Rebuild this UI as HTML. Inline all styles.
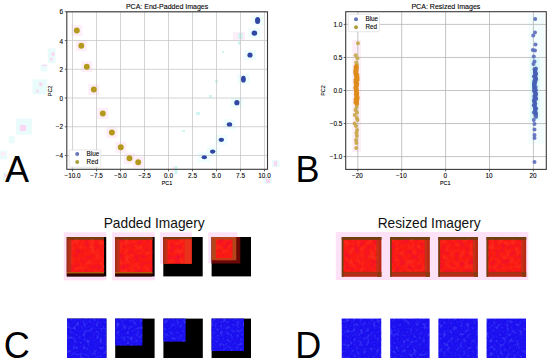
<!DOCTYPE html>
<html><head><meta charset="utf-8"><style>
html,body{margin:0;padding:0;background:#fff;width:550px;height:364px;overflow:hidden}
svg{display:block}
text{font-family:"Liberation Sans",sans-serif;fill:#000}
.sm{stroke:#000;stroke-width:0.1}
.md{fill:#111}
.g{stroke:#b0b0b0;stroke-width:0.75}
.ga{stroke:#c6c6c6;stroke-width:0.75}
.sp{fill:none;stroke:#3a3a3a;stroke-width:1.1}
.tk{stroke:#3a3a3a;stroke-width:0.8}
</style></head><body>
<svg width="550" height="364" viewBox="0 0 550 364">
<defs><linearGradient id="lb" x1="0" x2="1" y1="0" y2="0"><stop offset="0" stop-color="#98301a"/><stop offset="0.5" stop-color="#b8301a"/><stop offset="1" stop-color="#d82818"/></linearGradient><filter id="nr" x="0" y="0" width="1" height="1"><feTurbulence type="fractalNoise" baseFrequency="0.2" numOctaves="2" seed="4" result="t"/><feColorMatrix in="t" values="0 0 0 0 1  0 0 0 0 0.2  0 0 0 0 0.08  0.6 0 0 0 -0.3" result="l"/><feColorMatrix in="t" values="0 0 0 0 0.78  0 0 0 0 0  0 0 0 0 0.1  -1.3 0 0 0 0.65" result="d"/><feMerge><feMergeNode in="l"/><feMergeNode in="d"/></feMerge></filter><filter id="nb" x="0" y="0" width="1" height="1"><feTurbulence type="fractalNoise" baseFrequency="0.3" numOctaves="2" seed="9" result="t"/><feColorMatrix in="t" values="0 0 0 0 0.22  0 0 0 0 0.28  0 0 0 0 1  1.0 0 0 0 -0.5" result="l"/><feColorMatrix in="t" values="0 0 0 0 0.06  0 0 0 0 0.02  0 0 0 0 0.8  -1.0 0 0 0 0.5" result="d"/><feMerge><feMergeNode in="l"/><feMergeNode in="d"/></feMerge></filter></defs>
<rect x="528.50" y="14.00" width="16.00" height="130.00" fill="#f4fdfd" />
<rect x="530.30" y="58.00" width="9.40" height="62.00" fill="#dcf8f8" />
<rect x="352.30" y="40.00" width="8.60" height="112.00" fill="#fdeef8" />
<g id="A">
<rect x="47.80" y="48.20" width="7.70" height="14.80" fill="#e9fbfb" />
<rect x="51.50" y="52.50" width="3.20" height="3.20" fill="#f9d6f1" />
<rect x="50.20" y="57.80" width="2.60" height="2.60" fill="#f9d6f1" />
<rect x="40.70" y="64.70" width="6.60" height="6.60" fill="#e9fbfb" />
<rect x="42.00" y="64.70" width="5.00" height="1.20" fill="#f9d6f1" />
<rect x="32.50" y="79.50" width="14.80" height="14.90" fill="#e9fbfb" />
<rect x="39.20" y="82.80" width="3.20" height="3.20" fill="#f9d6f1" />
<rect x="36.30" y="89.80" width="2.60" height="2.60" fill="#f9d6f1" />
<rect x="16.00" y="118.50" width="16.00" height="16.00" fill="#e9fbfb" />
<rect x="20.00" y="125.00" width="6.00" height="6.00" fill="#f9d6f1" />
<rect x="8.70" y="135.80" width="6.20" height="7.50" fill="#e9fbfb" />
<rect x="0.00" y="150.70" width="7.00" height="8.70" fill="#e9fbfb" />
<rect x="1.00" y="152.00" width="4.00" height="4.00" fill="#fdeef9" />
<rect x="3.00" y="172.00" width="6.00" height="8.00" fill="#e9fbfb" />
<rect x="4.50" y="174.00" width="3.00" height="3.00" fill="#f9d6f1" />
<rect x="71.30" y="25.10" width="11.00" height="11.00" fill="#fdeef9" />
<rect x="75.80" y="40.30" width="11.00" height="11.00" fill="#fdeef9" />
<rect x="81.30" y="61.20" width="11.00" height="11.00" fill="#fdeef9" />
<rect x="88.30" y="84.00" width="11.00" height="11.00" fill="#fdeef9" />
<rect x="97.30" y="107.90" width="11.00" height="11.00" fill="#fdeef9" />
<rect x="106.40" y="127.00" width="11.00" height="11.00" fill="#fdeef9" />
<rect x="115.30" y="141.80" width="11.00" height="11.00" fill="#fdeef9" />
<rect x="124.00" y="152.70" width="11.00" height="11.00" fill="#fdeef9" />
<rect x="132.70" y="156.70" width="11.00" height="11.00" fill="#fdeef9" />
<rect x="251.60" y="15.40" width="12.00" height="10.00" fill="#effdfd" />
<rect x="248.40" y="28.10" width="12.00" height="10.00" fill="#effdfd" />
<rect x="244.00" y="50.00" width="12.00" height="10.00" fill="#effdfd" />
<rect x="237.40" y="74.20" width="12.00" height="10.00" fill="#effdfd" />
<rect x="230.90" y="97.70" width="12.00" height="10.00" fill="#effdfd" />
<rect x="223.50" y="119.40" width="12.00" height="10.00" fill="#effdfd" />
<rect x="215.40" y="134.80" width="12.00" height="10.00" fill="#effdfd" />
<rect x="206.70" y="146.60" width="12.00" height="10.00" fill="#effdfd" />
<rect x="198.30" y="152.30" width="12.00" height="10.00" fill="#effdfd" />
<rect x="233.00" y="32.00" width="12.00" height="8.00" fill="#fdeef9" />
<rect x="238.50" y="33.00" width="4.00" height="6.00" fill="#c8f4f0" />
<rect x="238.00" y="41.50" width="3.00" height="3.00" fill="#c8f4f0" />
<rect x="222.00" y="51.00" width="2.00" height="2.00" fill="#d0f6f4" />
<rect x="215.00" y="80.00" width="3.00" height="3.00" fill="#d0f6f4" />
<rect x="209.00" y="95.00" width="3.00" height="3.00" fill="#d0f6f4" />
<rect x="196.00" y="112.00" width="4.00" height="3.00" fill="#d0f6f4" />
<rect x="182.00" y="130.00" width="3.00" height="2.00" fill="#d0f6f4" />
<rect x="271.90" y="159.80" width="7.40" height="7.40" fill="#e9fbfb" />
<rect x="274.00" y="161.00" width="3.00" height="5.00" fill="#f9d6f1" />
<rect x="263.60" y="177.90" width="8.30" height="5.80" fill="#e9fbfb" />
<rect x="266.00" y="179.00" width="4.00" height="4.00" fill="#f9d6f1" />
<rect x="174.60" y="166.00" width="2.80" height="8.00" fill="#c8f6f2" />
<rect x="172.00" y="166.00" width="2.60" height="6.00" fill="#fdeef9" />
<line x1="72.50" y1="11.8" x2="72.50" y2="169.3" class="ga"/>
<line x1="96.50" y1="11.8" x2="96.50" y2="169.3" class="ga"/>
<line x1="120.50" y1="11.8" x2="120.50" y2="169.3" class="ga"/>
<line x1="144.50" y1="11.8" x2="144.50" y2="169.3" class="ga"/>
<line x1="168.50" y1="11.8" x2="168.50" y2="169.3" class="ga"/>
<line x1="192.50" y1="11.8" x2="192.50" y2="169.3" class="ga"/>
<line x1="216.50" y1="11.8" x2="216.50" y2="169.3" class="ga"/>
<line x1="240.50" y1="11.8" x2="240.50" y2="169.3" class="ga"/>
<line x1="264.50" y1="11.8" x2="264.50" y2="169.3" class="ga"/>
<line x1="66.8" y1="11.78" x2="267.5" y2="11.78" class="ga"/>
<line x1="66.8" y1="40.52" x2="267.5" y2="40.52" class="ga"/>
<line x1="66.8" y1="69.26" x2="267.5" y2="69.26" class="ga"/>
<line x1="66.8" y1="98.00" x2="267.5" y2="98.00" class="ga"/>
<line x1="66.8" y1="126.74" x2="267.5" y2="126.74" class="ga"/>
<line x1="66.8" y1="155.48" x2="267.5" y2="155.48" class="ga"/>
<ellipse cx="76.8" cy="30.6" rx="2.95" ry="3.0" fill="#b49a1c"/>
<ellipse cx="81.3" cy="45.8" rx="2.95" ry="3.0" fill="#b49a1c"/>
<ellipse cx="86.8" cy="66.7" rx="2.95" ry="3.0" fill="#b49a1c"/>
<ellipse cx="93.8" cy="89.5" rx="2.95" ry="3.0" fill="#b49a1c"/>
<ellipse cx="102.8" cy="113.4" rx="2.95" ry="3.0" fill="#b49a1c"/>
<ellipse cx="111.9" cy="132.5" rx="2.95" ry="3.0" fill="#b49a1c"/>
<ellipse cx="120.8" cy="147.3" rx="2.95" ry="3.0" fill="#b49a1c"/>
<ellipse cx="129.5" cy="158.2" rx="2.95" ry="3.0" fill="#b49a1c"/>
<ellipse cx="138.2" cy="162.2" rx="2.95" ry="3.0" fill="#b49a1c"/>
<ellipse cx="257.6" cy="20.4" rx="2.6" ry="3.5" fill="#3048a4"/>
<ellipse cx="254.4" cy="33.1" rx="2.8" ry="2.6" fill="#3048a4"/>
<ellipse cx="250" cy="55" rx="2.6" ry="2.6" fill="#3048a4"/>
<ellipse cx="243.4" cy="79.2" rx="2.4" ry="3.4" fill="#3048a4"/>
<ellipse cx="236.9" cy="102.7" rx="2.6" ry="2.6" fill="#3048a4"/>
<ellipse cx="229.5" cy="124.4" rx="2.7" ry="2.2" fill="#3048a4"/>
<ellipse cx="221.4" cy="139.8" rx="2.7" ry="2.1" fill="#3048a4"/>
<ellipse cx="212.7" cy="151.6" rx="2.7" ry="2.1" fill="#3048a4"/>
<ellipse cx="204.3" cy="157.3" rx="2.7" ry="2.0" fill="#3048a4"/>
<rect x="69.2" y="149.9" width="31.6" height="17.3" rx="1.2" fill="#fff" fill-opacity="0.92" stroke="#d6d6d6" stroke-width="0.6"/>
<circle cx="77.2" cy="154.1" r="2.0" fill="#6676b6"/>
<circle cx="77.2" cy="162.1" r="2.0" fill="#aaa040"/>
<text x="86.60" y="156.20" font-size="6.3" text-anchor="start" class="sm" >Blue</text>
<text x="86.60" y="164.30" font-size="6.3" text-anchor="start" class="sm" >Red</text>
<rect x="66.8" y="11.8" width="200.70" height="157.50" class="sp"/>
<line x1="72.50" y1="169.3" x2="72.50" y2="171.3" class="tk"/>
<text x="72.50" y="177.70" font-size="6.4" text-anchor="middle" class="sm" >−10.0</text>
<line x1="96.50" y1="169.3" x2="96.50" y2="171.3" class="tk"/>
<text x="96.50" y="177.70" font-size="6.4" text-anchor="middle" class="sm" >−7.5</text>
<line x1="120.50" y1="169.3" x2="120.50" y2="171.3" class="tk"/>
<text x="120.50" y="177.70" font-size="6.4" text-anchor="middle" class="sm" >−5.0</text>
<line x1="144.50" y1="169.3" x2="144.50" y2="171.3" class="tk"/>
<text x="144.50" y="177.70" font-size="6.4" text-anchor="middle" class="sm" >−2.5</text>
<line x1="168.50" y1="169.3" x2="168.50" y2="171.3" class="tk"/>
<text x="168.50" y="177.70" font-size="6.4" text-anchor="middle" class="sm" >0.0</text>
<line x1="192.50" y1="169.3" x2="192.50" y2="171.3" class="tk"/>
<text x="192.50" y="177.70" font-size="6.4" text-anchor="middle" class="sm" >2.5</text>
<line x1="216.50" y1="169.3" x2="216.50" y2="171.3" class="tk"/>
<text x="216.50" y="177.70" font-size="6.4" text-anchor="middle" class="sm" >5.0</text>
<line x1="240.50" y1="169.3" x2="240.50" y2="171.3" class="tk"/>
<text x="240.50" y="177.70" font-size="6.4" text-anchor="middle" class="sm" >7.5</text>
<line x1="264.50" y1="169.3" x2="264.50" y2="171.3" class="tk"/>
<text x="264.50" y="177.70" font-size="6.4" text-anchor="middle" class="sm" >10.0</text>
<line x1="64.8" y1="11.78" x2="66.8" y2="11.78" class="tk"/>
<text x="63.10" y="14.40" font-size="6.4" text-anchor="end" class="sm" >6</text>
<line x1="64.8" y1="40.52" x2="66.8" y2="40.52" class="tk"/>
<text x="63.10" y="44.00" font-size="6.4" text-anchor="end" class="sm" >4</text>
<line x1="64.8" y1="69.26" x2="66.8" y2="69.26" class="tk"/>
<text x="63.10" y="72.00" font-size="6.4" text-anchor="end" class="sm" >2</text>
<line x1="64.8" y1="98.00" x2="66.8" y2="98.00" class="tk"/>
<text x="63.10" y="101.00" font-size="6.4" text-anchor="end" class="sm" >0</text>
<line x1="64.8" y1="126.74" x2="66.8" y2="126.74" class="tk"/>
<text x="63.10" y="129.00" font-size="6.4" text-anchor="end" class="sm" >−2</text>
<line x1="64.8" y1="155.48" x2="66.8" y2="155.48" class="tk"/>
<text x="63.10" y="158.00" font-size="6.4" text-anchor="end" class="sm" >−4</text>
<text x="167.00" y="184.80" font-size="5.4" text-anchor="middle" class="sm" >PC1</text>
<text x="52.00" y="90.90" font-size="5.4" text-anchor="middle" class="sm" transform="rotate(-90 52.0 90.9)">PC2</text>
<text x="167.10" y="8.80" font-size="6.9" text-anchor="middle" class="sm"  textLength="82.4" lengthAdjust="spacingAndGlyphs">PCA: End-Padded Images</text>
</g>
<g id="B">
<line x1="357.80" y1="11.7" x2="357.80" y2="169.4" class="g"/>
<line x1="401.70" y1="11.7" x2="401.70" y2="169.4" class="g"/>
<line x1="445.60" y1="11.7" x2="445.60" y2="169.4" class="g"/>
<line x1="489.50" y1="11.7" x2="489.50" y2="169.4" class="g"/>
<line x1="533.40" y1="11.7" x2="533.40" y2="169.4" class="g"/>
<line x1="345.7" y1="24.40" x2="546.3" y2="24.40" class="g"/>
<line x1="345.7" y1="57.45" x2="546.3" y2="57.45" class="g"/>
<line x1="345.7" y1="90.50" x2="546.3" y2="90.50" class="g"/>
<line x1="345.7" y1="123.55" x2="546.3" y2="123.55" class="g"/>
<line x1="345.7" y1="156.60" x2="546.3" y2="156.60" class="g"/>
<circle cx="358.00" cy="43.30" r="2.0" fill="#c4aa48" fill-opacity="0.9"/>
<circle cx="355.70" cy="55.30" r="2.0" fill="#c4aa48" fill-opacity="0.9"/>
<circle cx="357.40" cy="58.20" r="2.0" fill="#c4aa48" fill-opacity="0.9"/>
<circle cx="356.20" cy="62.50" r="2.0" fill="#c4aa48" fill-opacity="0.9"/>
<circle cx="357.00" cy="65.00" r="2.0" fill="#c4aa48" fill-opacity="0.9"/>
<circle cx="356.08" cy="66.00" r="2.0" fill="#de8c1c" fill-opacity="0.9"/>
<circle cx="355.66" cy="66.65" r="2.0" fill="#de8c1c" fill-opacity="0.9"/>
<circle cx="356.86" cy="67.30" r="2.0" fill="#de8c1c" fill-opacity="0.9"/>
<circle cx="355.47" cy="67.95" r="2.0" fill="#de8c1c" fill-opacity="0.9"/>
<circle cx="356.59" cy="68.60" r="2.0" fill="#de8c1c" fill-opacity="0.9"/>
<circle cx="356.18" cy="69.25" r="2.0" fill="#de8c1c" fill-opacity="0.9"/>
<circle cx="355.44" cy="69.90" r="2.0" fill="#de8c1c" fill-opacity="0.9"/>
<circle cx="356.52" cy="70.55" r="2.0" fill="#de8c1c" fill-opacity="0.9"/>
<circle cx="355.39" cy="71.20" r="2.0" fill="#de8c1c" fill-opacity="0.9"/>
<circle cx="356.34" cy="71.85" r="2.0" fill="#de8c1c" fill-opacity="0.9"/>
<circle cx="355.47" cy="72.50" r="2.0" fill="#de8c1c" fill-opacity="0.9"/>
<circle cx="355.52" cy="73.15" r="2.0" fill="#de8c1c" fill-opacity="0.9"/>
<circle cx="356.32" cy="73.80" r="2.0" fill="#de8c1c" fill-opacity="0.9"/>
<circle cx="357.28" cy="74.45" r="2.0" fill="#de8c1c" fill-opacity="0.9"/>
<circle cx="355.60" cy="75.10" r="2.0" fill="#de8c1c" fill-opacity="0.9"/>
<circle cx="355.84" cy="75.75" r="2.0" fill="#de8c1c" fill-opacity="0.9"/>
<circle cx="356.81" cy="76.40" r="2.0" fill="#de8c1c" fill-opacity="0.9"/>
<circle cx="357.57" cy="77.05" r="2.0" fill="#de8c1c" fill-opacity="0.9"/>
<circle cx="356.69" cy="77.70" r="2.0" fill="#de8c1c" fill-opacity="0.9"/>
<circle cx="356.25" cy="78.35" r="2.0" fill="#de8c1c" fill-opacity="0.9"/>
<circle cx="357.64" cy="79.00" r="2.0" fill="#de8c1c" fill-opacity="0.9"/>
<circle cx="355.41" cy="79.65" r="2.0" fill="#de8c1c" fill-opacity="0.9"/>
<circle cx="357.36" cy="80.30" r="2.0" fill="#de8c1c" fill-opacity="0.9"/>
<circle cx="356.00" cy="80.95" r="2.0" fill="#de8c1c" fill-opacity="0.9"/>
<circle cx="355.65" cy="81.60" r="2.0" fill="#de8c1c" fill-opacity="0.9"/>
<circle cx="355.58" cy="82.25" r="2.0" fill="#de8c1c" fill-opacity="0.9"/>
<circle cx="356.04" cy="82.90" r="2.0" fill="#de8c1c" fill-opacity="0.9"/>
<circle cx="357.26" cy="83.55" r="2.0" fill="#de8c1c" fill-opacity="0.9"/>
<circle cx="355.73" cy="84.20" r="2.0" fill="#de8c1c" fill-opacity="0.9"/>
<circle cx="356.70" cy="84.85" r="2.0" fill="#de8c1c" fill-opacity="0.9"/>
<circle cx="356.83" cy="85.50" r="2.0" fill="#de8c1c" fill-opacity="0.9"/>
<circle cx="356.19" cy="86.15" r="2.0" fill="#de8c1c" fill-opacity="0.9"/>
<circle cx="356.61" cy="86.80" r="2.0" fill="#de8c1c" fill-opacity="0.9"/>
<circle cx="355.45" cy="87.45" r="2.0" fill="#de8c1c" fill-opacity="0.9"/>
<circle cx="355.44" cy="88.10" r="2.0" fill="#de8c1c" fill-opacity="0.9"/>
<circle cx="355.79" cy="88.75" r="2.0" fill="#de8c1c" fill-opacity="0.9"/>
<circle cx="356.93" cy="89.40" r="2.0" fill="#de8c1c" fill-opacity="0.9"/>
<circle cx="356.33" cy="90.05" r="2.0" fill="#de8c1c" fill-opacity="0.9"/>
<circle cx="356.05" cy="90.70" r="2.0" fill="#de8c1c" fill-opacity="0.9"/>
<circle cx="356.71" cy="91.35" r="2.0" fill="#de8c1c" fill-opacity="0.9"/>
<circle cx="356.39" cy="92.00" r="2.0" fill="#de8c1c" fill-opacity="0.9"/>
<circle cx="356.02" cy="92.65" r="2.0" fill="#de8c1c" fill-opacity="0.9"/>
<circle cx="357.21" cy="93.30" r="2.0" fill="#de8c1c" fill-opacity="0.9"/>
<circle cx="356.98" cy="93.95" r="2.0" fill="#de8c1c" fill-opacity="0.9"/>
<circle cx="355.89" cy="94.60" r="2.0" fill="#de8c1c" fill-opacity="0.9"/>
<circle cx="356.68" cy="95.25" r="2.0" fill="#de8c1c" fill-opacity="0.9"/>
<circle cx="356.56" cy="95.90" r="2.0" fill="#de8c1c" fill-opacity="0.9"/>
<circle cx="357.40" cy="96.55" r="2.0" fill="#de8c1c" fill-opacity="0.9"/>
<circle cx="357.05" cy="97.20" r="2.0" fill="#de8c1c" fill-opacity="0.9"/>
<circle cx="355.99" cy="97.85" r="2.0" fill="#de8c1c" fill-opacity="0.9"/>
<circle cx="357.65" cy="98.50" r="2.0" fill="#de8c1c" fill-opacity="0.9"/>
<circle cx="355.58" cy="99.15" r="2.0" fill="#de8c1c" fill-opacity="0.9"/>
<circle cx="356.30" cy="99.80" r="2.0" fill="#de8c1c" fill-opacity="0.9"/>
<circle cx="357.12" cy="100.45" r="2.0" fill="#de8c1c" fill-opacity="0.9"/>
<circle cx="355.66" cy="101.10" r="2.0" fill="#de8c1c" fill-opacity="0.9"/>
<circle cx="356.47" cy="101.75" r="2.0" fill="#de8c1c" fill-opacity="0.9"/>
<circle cx="355.39" cy="102.40" r="2.0" fill="#de8c1c" fill-opacity="0.9"/>
<circle cx="356.90" cy="103.05" r="2.0" fill="#de8c1c" fill-opacity="0.9"/>
<circle cx="357.13" cy="103.70" r="2.0" fill="#de8c1c" fill-opacity="0.9"/>
<circle cx="356.68" cy="104.35" r="2.0" fill="#de8c1c" fill-opacity="0.9"/>
<circle cx="356.50" cy="107.00" r="2.0" fill="#c8a444" fill-opacity="0.9"/>
<circle cx="355.50" cy="110.00" r="2.0" fill="#c8a444" fill-opacity="0.9"/>
<circle cx="357.00" cy="112.50" r="2.0" fill="#c8a444" fill-opacity="0.9"/>
<circle cx="354.80" cy="115.00" r="2.0" fill="#c8a444" fill-opacity="0.9"/>
<circle cx="356.80" cy="118.00" r="2.0" fill="#c8a444" fill-opacity="0.9"/>
<circle cx="357.50" cy="120.00" r="2.0" fill="#c8a444" fill-opacity="0.9"/>
<circle cx="354.60" cy="123.50" r="2.0" fill="#c8a444" fill-opacity="0.9"/>
<circle cx="356.00" cy="126.00" r="2.0" fill="#c8a444" fill-opacity="0.9"/>
<circle cx="357.00" cy="130.00" r="2.0" fill="#c8a444" fill-opacity="0.9"/>
<circle cx="356.40" cy="133.00" r="2.0" fill="#c8a444" fill-opacity="0.9"/>
<circle cx="356.80" cy="136.00" r="2.0" fill="#c8a444" fill-opacity="0.9"/>
<circle cx="356.00" cy="140.00" r="2.0" fill="#c8a444" fill-opacity="0.9"/>
<circle cx="356.40" cy="143.00" r="2.0" fill="#c8a444" fill-opacity="0.9"/>
<circle cx="356.20" cy="148.00" r="2.0" fill="#c8a444" fill-opacity="0.9"/>
<circle cx="535.20" cy="18.90" r="2.0" fill="#5a6cbc" fill-opacity="0.9"/>
<circle cx="535.00" cy="32.60" r="2.0" fill="#5a6cbc" fill-opacity="0.9"/>
<circle cx="533.20" cy="35.50" r="2.0" fill="#5a6cbc" fill-opacity="0.9"/>
<circle cx="535.50" cy="44.50" r="2.0" fill="#5a6cbc" fill-opacity="0.9"/>
<circle cx="532.80" cy="50.00" r="2.0" fill="#5a6cbc" fill-opacity="0.9"/>
<circle cx="535.00" cy="50.50" r="2.0" fill="#5a6cbc" fill-opacity="0.9"/>
<circle cx="533.80" cy="56.50" r="2.0" fill="#5a6cbc" fill-opacity="0.9"/>
<circle cx="534.50" cy="61.50" r="2.0" fill="#5a6cbc" fill-opacity="0.9"/>
<circle cx="533.50" cy="64.00" r="2.0" fill="#5a6cbc" fill-opacity="0.9"/>
<circle cx="535.90" cy="68.50" r="2.0" fill="#4860b6" fill-opacity="0.9"/>
<circle cx="534.55" cy="69.30" r="2.0" fill="#4860b6" fill-opacity="0.9"/>
<circle cx="535.47" cy="70.10" r="2.0" fill="#4860b6" fill-opacity="0.9"/>
<circle cx="535.23" cy="70.90" r="2.0" fill="#4860b6" fill-opacity="0.9"/>
<circle cx="535.19" cy="71.70" r="2.0" fill="#4860b6" fill-opacity="0.9"/>
<circle cx="534.89" cy="72.50" r="2.0" fill="#4860b6" fill-opacity="0.9"/>
<circle cx="535.82" cy="73.30" r="2.0" fill="#4860b6" fill-opacity="0.9"/>
<circle cx="536.07" cy="74.10" r="2.0" fill="#4860b6" fill-opacity="0.9"/>
<circle cx="534.94" cy="74.90" r="2.0" fill="#4860b6" fill-opacity="0.9"/>
<circle cx="535.39" cy="75.70" r="2.0" fill="#4860b6" fill-opacity="0.9"/>
<circle cx="533.95" cy="76.50" r="2.0" fill="#4860b6" fill-opacity="0.9"/>
<circle cx="535.48" cy="77.30" r="2.0" fill="#4860b6" fill-opacity="0.9"/>
<circle cx="535.35" cy="78.10" r="2.0" fill="#4860b6" fill-opacity="0.9"/>
<circle cx="536.18" cy="78.90" r="2.0" fill="#4860b6" fill-opacity="0.9"/>
<circle cx="535.77" cy="79.70" r="2.0" fill="#4860b6" fill-opacity="0.9"/>
<circle cx="534.48" cy="80.50" r="2.0" fill="#4860b6" fill-opacity="0.9"/>
<circle cx="534.73" cy="81.30" r="2.0" fill="#4860b6" fill-opacity="0.9"/>
<circle cx="535.40" cy="82.10" r="2.0" fill="#4860b6" fill-opacity="0.9"/>
<circle cx="533.85" cy="82.90" r="2.0" fill="#4860b6" fill-opacity="0.9"/>
<circle cx="534.91" cy="83.70" r="2.0" fill="#4860b6" fill-opacity="0.9"/>
<circle cx="534.20" cy="84.50" r="2.0" fill="#4860b6" fill-opacity="0.9"/>
<circle cx="534.08" cy="85.30" r="2.0" fill="#4860b6" fill-opacity="0.9"/>
<circle cx="533.94" cy="86.10" r="2.0" fill="#4860b6" fill-opacity="0.9"/>
<circle cx="535.64" cy="86.90" r="2.0" fill="#4860b6" fill-opacity="0.9"/>
<circle cx="534.11" cy="87.70" r="2.0" fill="#4860b6" fill-opacity="0.9"/>
<circle cx="534.39" cy="88.50" r="2.0" fill="#4860b6" fill-opacity="0.9"/>
<circle cx="534.74" cy="89.30" r="2.0" fill="#4860b6" fill-opacity="0.9"/>
<circle cx="535.89" cy="90.10" r="2.0" fill="#4860b6" fill-opacity="0.9"/>
<circle cx="533.99" cy="90.90" r="2.0" fill="#4860b6" fill-opacity="0.9"/>
<circle cx="534.88" cy="91.70" r="2.0" fill="#4860b6" fill-opacity="0.9"/>
<circle cx="535.12" cy="92.50" r="2.0" fill="#4860b6" fill-opacity="0.9"/>
<circle cx="535.92" cy="93.30" r="2.0" fill="#4860b6" fill-opacity="0.9"/>
<circle cx="535.77" cy="94.10" r="2.0" fill="#4860b6" fill-opacity="0.9"/>
<circle cx="535.87" cy="94.90" r="2.0" fill="#4860b6" fill-opacity="0.9"/>
<circle cx="534.47" cy="95.70" r="2.0" fill="#4860b6" fill-opacity="0.9"/>
<circle cx="534.80" cy="96.50" r="2.0" fill="#4860b6" fill-opacity="0.9"/>
<circle cx="534.66" cy="97.30" r="2.0" fill="#4860b6" fill-opacity="0.9"/>
<circle cx="535.92" cy="98.10" r="2.0" fill="#4860b6" fill-opacity="0.9"/>
<circle cx="536.10" cy="98.90" r="2.0" fill="#4860b6" fill-opacity="0.9"/>
<circle cx="534.16" cy="99.70" r="2.0" fill="#4860b6" fill-opacity="0.9"/>
<circle cx="534.22" cy="100.50" r="2.0" fill="#4860b6" fill-opacity="0.9"/>
<circle cx="534.36" cy="101.30" r="2.0" fill="#4860b6" fill-opacity="0.9"/>
<circle cx="534.36" cy="102.10" r="2.0" fill="#4860b6" fill-opacity="0.9"/>
<circle cx="534.96" cy="102.90" r="2.0" fill="#4860b6" fill-opacity="0.9"/>
<circle cx="535.21" cy="103.70" r="2.0" fill="#4860b6" fill-opacity="0.9"/>
<circle cx="534.43" cy="104.50" r="2.0" fill="#4860b6" fill-opacity="0.9"/>
<circle cx="533.81" cy="105.30" r="2.0" fill="#4860b6" fill-opacity="0.9"/>
<circle cx="534.81" cy="106.10" r="2.0" fill="#4860b6" fill-opacity="0.9"/>
<circle cx="534.69" cy="106.90" r="2.0" fill="#4860b6" fill-opacity="0.9"/>
<circle cx="535.16" cy="107.70" r="2.0" fill="#4860b6" fill-opacity="0.9"/>
<circle cx="536.09" cy="108.50" r="2.0" fill="#4860b6" fill-opacity="0.9"/>
<circle cx="535.46" cy="109.30" r="2.0" fill="#4860b6" fill-opacity="0.9"/>
<circle cx="535.04" cy="110.10" r="2.0" fill="#4860b6" fill-opacity="0.9"/>
<circle cx="535.28" cy="110.90" r="2.0" fill="#4860b6" fill-opacity="0.9"/>
<circle cx="535.42" cy="111.70" r="2.0" fill="#4860b6" fill-opacity="0.9"/>
<circle cx="533.93" cy="112.50" r="2.0" fill="#4860b6" fill-opacity="0.9"/>
<circle cx="535.96" cy="113.30" r="2.0" fill="#4860b6" fill-opacity="0.9"/>
<circle cx="535.67" cy="114.10" r="2.0" fill="#4860b6" fill-opacity="0.9"/>
<circle cx="535.90" cy="114.90" r="2.0" fill="#4860b6" fill-opacity="0.9"/>
<circle cx="535.71" cy="115.70" r="2.0" fill="#4860b6" fill-opacity="0.9"/>
<circle cx="536.00" cy="117.00" r="2.0" fill="#5a6cbc" fill-opacity="0.9"/>
<circle cx="533.80" cy="120.00" r="2.0" fill="#5a6cbc" fill-opacity="0.9"/>
<circle cx="534.50" cy="124.00" r="2.0" fill="#5a6cbc" fill-opacity="0.9"/>
<circle cx="534.50" cy="129.50" r="2.0" fill="#5a6cbc" fill-opacity="0.9"/>
<circle cx="534.50" cy="135.00" r="2.0" fill="#5a6cbc" fill-opacity="0.9"/>
<circle cx="534.50" cy="138.00" r="2.0" fill="#5a6cbc" fill-opacity="0.9"/>
<circle cx="534.50" cy="162.00" r="2.0" fill="#5a6cbc" fill-opacity="0.9"/>
<rect x="348.3" y="14.2" width="31.2" height="17.5" rx="1.2" fill="#fff" fill-opacity="0.92" stroke="#d6d6d6" stroke-width="0.6"/>
<circle cx="356.0" cy="19.2" r="2.0" fill="#6676b6"/>
<circle cx="356.0" cy="27.2" r="2.0" fill="#aaa040"/>
<text x="365.50" y="21.00" font-size="6.3" text-anchor="start" class="sm" >Blue</text>
<text x="365.50" y="29.00" font-size="6.3" text-anchor="start" class="sm" >Red</text>
<rect x="345.7" y="11.7" width="200.60" height="157.70" class="sp"/>
<line x1="357.80" y1="169.4" x2="357.80" y2="171.4" class="tk"/>
<text x="357.40" y="177.70" font-size="6.4" text-anchor="middle" class="sm" >−20</text>
<line x1="401.70" y1="169.4" x2="401.70" y2="171.4" class="tk"/>
<text x="401.30" y="177.70" font-size="6.4" text-anchor="middle" class="sm" >−10</text>
<line x1="445.60" y1="169.4" x2="445.60" y2="171.4" class="tk"/>
<text x="445.20" y="177.70" font-size="6.4" text-anchor="middle" class="sm" >0</text>
<line x1="489.50" y1="169.4" x2="489.50" y2="171.4" class="tk"/>
<text x="489.10" y="177.70" font-size="6.4" text-anchor="middle" class="sm" >10</text>
<line x1="533.40" y1="169.4" x2="533.40" y2="171.4" class="tk"/>
<text x="533.00" y="177.70" font-size="6.4" text-anchor="middle" class="sm" >20</text>
<line x1="343.7" y1="24.40" x2="345.7" y2="24.40" class="tk"/>
<text x="342.30" y="27.00" font-size="6.4" text-anchor="end" class="sm" >1.0</text>
<line x1="343.7" y1="57.45" x2="345.7" y2="57.45" class="tk"/>
<text x="342.30" y="60.00" font-size="6.4" text-anchor="end" class="sm" >0.5</text>
<line x1="343.7" y1="90.50" x2="345.7" y2="90.50" class="tk"/>
<text x="342.30" y="93.00" font-size="6.4" text-anchor="end" class="sm" >0.0</text>
<line x1="343.7" y1="123.55" x2="345.7" y2="123.55" class="tk"/>
<text x="342.30" y="126.00" font-size="6.4" text-anchor="end" class="sm" >−0.5</text>
<line x1="343.7" y1="156.60" x2="345.7" y2="156.60" class="tk"/>
<text x="342.30" y="159.00" font-size="6.4" text-anchor="end" class="sm" >−1.0</text>
<text x="445.20" y="184.80" font-size="5.4" text-anchor="middle" class="sm" >PC1</text>
<text x="325.40" y="90.60" font-size="5.4" text-anchor="middle" class="sm" transform="rotate(-90 325.4 90.6)">PC2</text>
<text x="445.90" y="8.80" font-size="6.9" text-anchor="middle" class="sm"  textLength="69.0" lengthAdjust="spacingAndGlyphs">PCA: Resized Images</text>
</g>
<text x="5.00" y="181.90" font-size="36" text-anchor="start" >A</text>
<text x="295.60" y="182.00" font-size="36" text-anchor="start" >B</text>
<text x="3.80" y="358.20" font-size="36" text-anchor="start" >C</text>
<text x="295.30" y="357.80" font-size="36" text-anchor="start" >D</text>
<text x="154.20" y="227.60" font-size="14.3" text-anchor="middle" class="md"  textLength="101" lengthAdjust="spacingAndGlyphs">Padded Imagery</text>
<text x="429.20" y="227.90" font-size="14.3" text-anchor="middle" class="md"  textLength="103" lengthAdjust="spacingAndGlyphs">Resized Imagery</text>
<rect x="63.80" y="232.30" width="42.60" height="48.00" fill="#fde2f7" />
<rect x="112.20" y="232.30" width="42.60" height="48.00" fill="#fde2f7" />
<rect x="160.00" y="232.30" width="32.00" height="31.50" fill="#fde2f7" />
<rect x="208.30" y="232.30" width="29.00" height="31.00" fill="#fde2f7" />
<rect x="335.80" y="232.00" width="192.50" height="48.00" fill="#fde2f7" />
<rect x="66.80" y="237.00" width="39.40" height="39.40" fill="#000" />
<rect x="66.80" y="237.00" width="37.20" height="36.60" fill="#fa1a12" />
<rect x="66.80" y="237.00" width="37.20" height="2.80" fill="#7a3c10" />
<rect x="66.80" y="239.80" width="5.00" height="32.20" fill="url(#lb)" />
<rect x="66.80" y="272.00" width="37.20" height="1.60" fill="#a86010" />
<rect x="66.80" y="273.60" width="37.20" height="2.80" fill="#300404" />
<rect x="115.20" y="237.00" width="39.40" height="39.40" fill="#000" />
<rect x="115.20" y="237.00" width="37.20" height="36.60" fill="#fa1a12" />
<rect x="115.20" y="237.00" width="37.20" height="2.80" fill="#7a3c10" />
<rect x="115.20" y="239.80" width="5.00" height="32.20" fill="url(#lb)" />
<rect x="115.20" y="272.00" width="37.20" height="1.60" fill="#a86010" />
<rect x="115.20" y="273.60" width="37.20" height="2.80" fill="#300404" />
<rect x="163.30" y="237.00" width="39.40" height="39.40" fill="#000" />
<rect x="163.30" y="237.00" width="28.40" height="26.80" fill="#fa1a12" />
<rect x="163.30" y="237.00" width="28.40" height="2.40" fill="#7a3c10" />
<rect x="163.30" y="239.40" width="4.60" height="24.40" fill="url(#lb)" />
<rect x="184.50" y="239.40" width="7.20" height="24.40" fill="#e8301a" />
<rect x="211.60" y="237.00" width="39.40" height="39.40" fill="#000" />
<rect x="211.60" y="237.00" width="28.70" height="26.50" fill="#6a0808" />
<rect x="211.60" y="237.00" width="24.70" height="23.20" fill="#b4441a" />
<rect x="215.90" y="239.60" width="16.50" height="18.50" fill="#fa1a12" />
<rect x="215.90" y="258.10" width="16.50" height="2.10" fill="#c83a1a" />
<rect x="67.00" y="318.60" width="39.40" height="39.40" fill="#000" />
<rect x="67.00" y="318.60" width="39.40" height="39.40" fill="#180ef0" />
<rect x="115.20" y="318.60" width="39.40" height="39.40" fill="#000" />
<rect x="115.20" y="318.60" width="27.20" height="27.00" fill="#180ef0" />
<rect x="163.40" y="318.60" width="39.40" height="39.40" fill="#000" />
<rect x="163.40" y="318.60" width="22.20" height="23.00" fill="#180ef0" />
<rect x="211.60" y="318.60" width="39.40" height="39.40" fill="#000" />
<rect x="211.60" y="318.60" width="32.40" height="32.40" fill="#180ef0" />
<rect x="341.80" y="237.00" width="39.60" height="39.80" fill="#b82a14" />
<rect x="376.20" y="240.00" width="2.60" height="32.00" fill="#c83018" />
<rect x="343.80" y="271.80" width="33.00" height="2.40" fill="#a83214" />
<rect x="343.40" y="239.80" width="32.80" height="32.00" fill="#fa1a12" />
<rect x="341.80" y="237.00" width="39.60" height="2.80" fill="#704010" />
<rect x="341.80" y="237.00" width="1.70" height="39.80" fill="#704010" />
<rect x="377.30" y="272.00" width="4.10" height="4.80" fill="#8a3a10" />
<rect x="341.80" y="318.60" width="39.40" height="39.40" fill="#180ef0" />
<rect x="390.20" y="237.00" width="39.60" height="39.80" fill="#b82a14" />
<rect x="424.60" y="240.00" width="2.60" height="32.00" fill="#c83018" />
<rect x="392.20" y="271.80" width="33.00" height="2.40" fill="#a83214" />
<rect x="391.80" y="239.80" width="32.80" height="32.00" fill="#fa1a12" />
<rect x="390.20" y="237.00" width="39.60" height="2.80" fill="#704010" />
<rect x="390.20" y="237.00" width="1.70" height="39.80" fill="#704010" />
<rect x="425.70" y="272.00" width="4.10" height="4.80" fill="#8a3a10" />
<rect x="390.20" y="318.60" width="39.40" height="39.40" fill="#180ef0" />
<rect x="438.40" y="237.00" width="39.60" height="39.80" fill="#b82a14" />
<rect x="472.80" y="240.00" width="2.60" height="32.00" fill="#c83018" />
<rect x="440.40" y="271.80" width="33.00" height="2.40" fill="#a83214" />
<rect x="440.00" y="239.80" width="32.80" height="32.00" fill="#fa1a12" />
<rect x="438.40" y="237.00" width="39.60" height="2.80" fill="#704010" />
<rect x="438.40" y="237.00" width="1.70" height="39.80" fill="#704010" />
<rect x="473.90" y="272.00" width="4.10" height="4.80" fill="#8a3a10" />
<rect x="438.40" y="318.60" width="39.40" height="39.40" fill="#180ef0" />
<rect x="486.60" y="237.00" width="39.60" height="39.80" fill="#b82a14" />
<rect x="521.00" y="240.00" width="2.60" height="32.00" fill="#c83018" />
<rect x="488.60" y="271.80" width="33.00" height="2.40" fill="#a83214" />
<rect x="488.20" y="239.80" width="32.80" height="32.00" fill="#fa1a12" />
<rect x="486.60" y="237.00" width="39.60" height="2.80" fill="#704010" />
<rect x="486.60" y="237.00" width="1.70" height="39.80" fill="#704010" />
<rect x="522.10" y="272.00" width="4.10" height="4.80" fill="#8a3a10" />
<rect x="486.60" y="318.60" width="39.40" height="39.40" fill="#180ef0" />
<rect x="71.8" y="239.8" width="32.4" height="31.4" filter="url(#nr)"/>
<rect x="120.2" y="239.8" width="32.4" height="31.4" filter="url(#nr)"/>
<rect x="168" y="239.4" width="16" height="24" filter="url(#nr)"/>
<rect x="216" y="239.6" width="16" height="16" filter="url(#nr)"/>
<rect x="343.4" y="239.8" width="32.8" height="32" filter="url(#nr)"/>
<rect x="391.8" y="239.8" width="32.8" height="32" filter="url(#nr)"/>
<rect x="440" y="239.8" width="32.8" height="32" filter="url(#nr)"/>
<rect x="488.2" y="239.8" width="32.8" height="32" filter="url(#nr)"/>
<rect x="67" y="318.6" width="39.4" height="39.4" filter="url(#nb)"/>
<rect x="115.2" y="318.6" width="27.2" height="27" filter="url(#nb)"/>
<rect x="163.4" y="318.6" width="22.2" height="23" filter="url(#nb)"/>
<rect x="211.6" y="318.6" width="32.4" height="32.4" filter="url(#nb)"/>
<rect x="341.8" y="318.6" width="39.4" height="39.4" filter="url(#nb)"/>
<rect x="390.2" y="318.6" width="39.4" height="39.4" filter="url(#nb)"/>
<rect x="438.4" y="318.6" width="39.4" height="39.4" filter="url(#nb)"/>
<rect x="486.6" y="318.6" width="39.4" height="39.4" filter="url(#nb)"/>
</svg>
</body></html>
